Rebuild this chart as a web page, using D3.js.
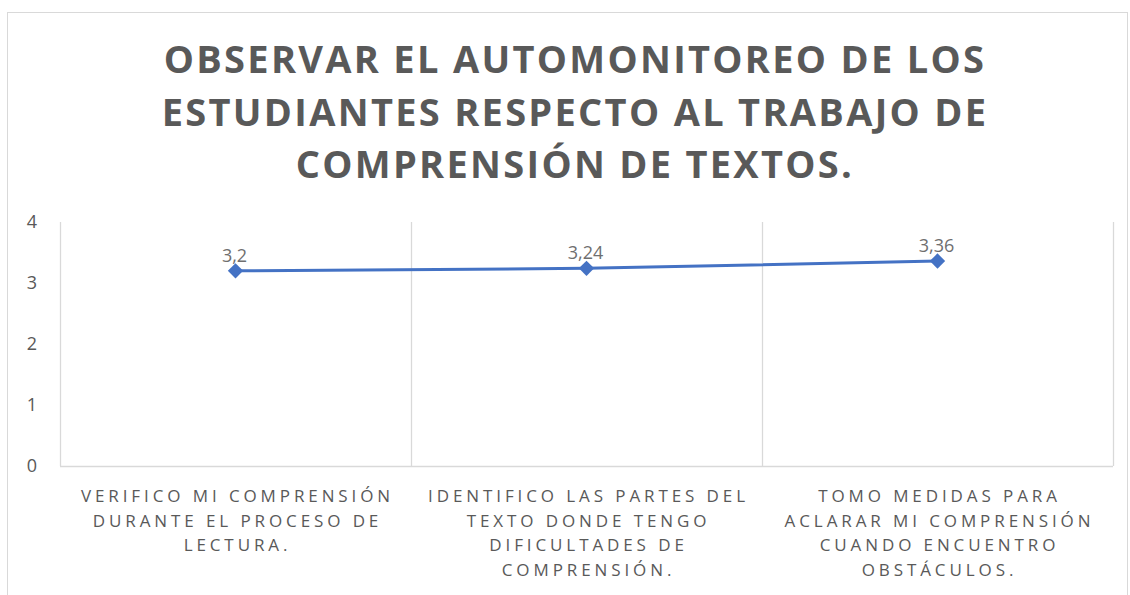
<!DOCTYPE html>
<html>
<head>
<meta charset="utf-8">
<script src="https://cdn.jsdelivr.net/npm/d3@7"></script>
<style>
  body { margin: 0; background: #fff; }
  text { font-family: "Open Sans", sans-serif; fill: #595959; }
</style>
</head>
<body>
<div id="chart"></div>
<script>
var titleLines = ["OBSERVAR EL AUTOMONITOREO DE LOS", "ESTUDIANTES RESPECTO AL TRABAJO DE", "COMPRENSIÓN DE TEXTOS."];
var categories = [
  ["VERIFICO MI COMPRENSIÓN", "DURANTE EL PROCESO DE", "LECTURA."],
  ["IDENTIFICO LAS PARTES DEL", "TEXTO DONDE TENGO", "DIFICULTADES DE", "COMPRENSIÓN."],
  ["TOMO MEDIDAS PARA", "ACLARAR MI COMPRENSIÓN", "CUANDO ENCUENTRO", "OBSTÁCULOS."]
];
var values = [3.2, 3.24, 3.36];
var valueLabels = ["3,2", "3,24", "3,36"];
var yTicks = [0, 1, 2, 3, 4];

var width = 1130, height = 595;
var plotLeft = 60, plotRight = 1113, plotTop = 222, plotBottom = 466;

var svg = d3.select('#chart').append('svg')
  .attr('width', width)
  .attr('height', height);

// chart frame
svg.append('rect')
  .attr('x', 7.5).attr('y', 12.5)
  .attr('width', 1120).attr('height', 600)
  .attr('fill', 'none').attr('stroke', '#d9d9d9');

// title
svg.append('text')
  .attr('text-anchor', 'middle')
  .style('font-weight', 'bold')
  .style('font-size', '38px')
  .style('letter-spacing', '2.3px')
  .selectAll('tspan')
  .data(titleLines)
  .enter()
  .append('tspan')
  .attr('x', 575)
  .attr('y', function(d, i) { return 73 + i * 52.5; })
  .text(function(d) { return d; });

var x = d3.scaleBand()
  .domain(d3.range(categories.length))
  .range([plotLeft, plotRight]);

var y = d3.scaleLinear()
  .domain([0, 4])
  .range([plotBottom, plotTop]);

// vertical gridlines at category boundaries
var bounds = d3.range(categories.length + 1).map(function(i) {
  return i < categories.length ? x(i) : x(i - 1) + x.bandwidth();
});
svg.selectAll('.vgrid')
  .data(bounds)
  .enter()
  .append('line')
  .attr('x1', function(d) { return Math.round(d) + 0.5; })
  .attr('x2', function(d) { return Math.round(d) + 0.5; })
  .attr('y1', plotTop)
  .attr('y2', plotBottom)
  .attr('stroke', '#d9d9d9')
  .attr('stroke-width', 1.3);

// x axis line
svg.append('line')
  .attr('x1', plotLeft).attr('x2', plotRight)
  .attr('y1', plotBottom + 0.5).attr('y2', plotBottom + 0.5)
  .attr('stroke', '#d9d9d9')
  .attr('stroke-width', 1.3);

// y tick labels
svg.selectAll('.ytick')
  .data(yTicks)
  .enter()
  .append('text')
  .attr('x', 37)
  .attr('y', function(d) { return y(d); })
  .attr('dy', '0.35em')
  .attr('text-anchor', 'end')
  .style('font-size', '18px')
  .text(function(d) { return d; });

// category labels
categories.forEach(function(lines, i) {
  svg.append('text')
    .attr('text-anchor', 'middle')
    .style('font-size', '17px')
    .style('letter-spacing', '3.9px')
    .selectAll('tspan')
    .data(lines)
    .enter()
    .append('tspan')
    .attr('x', x(i) + x.bandwidth() / 2 + 2)
    .attr('y', function(d, j) { return 502 + j * 24.5; })
    .text(function(d) { return d; });
});

// line
var line = d3.line()
  .x(function(d, i) { return x(i) + x.bandwidth() / 2; })
  .y(function(d) { return y(d); });

svg.append('path')
  .datum(values)
  .attr('d', line)
  .attr('fill', 'none')
  .attr('stroke', '#4472c4')
  .attr('stroke-width', 3);

// diamond markers
svg.selectAll('.marker')
  .data(values)
  .enter()
  .append('path')
  .attr('d', d3.symbol().type(d3.symbolDiamond2).size(150))
  .attr('transform', function(d, i) {
    return 'translate(' + (x(i) + x.bandwidth() / 2) + ',' + y(d) + ')';
  })
  .attr('fill', '#4472c4');

// data labels
svg.selectAll('.dlabel')
  .data(values)
  .enter()
  .append('text')
  .attr('x', function(d, i) { return x(i) + x.bandwidth() / 2 - 1; })
  .attr('y', function(d) { return y(d) - 9; })
  .attr('text-anchor', 'middle')
  .style('font-size', '18px')
  .style('fill', '#6f6f6f')
  .text(function(d, i) { return valueLabels[i]; });
</script>
</body>
</html>
